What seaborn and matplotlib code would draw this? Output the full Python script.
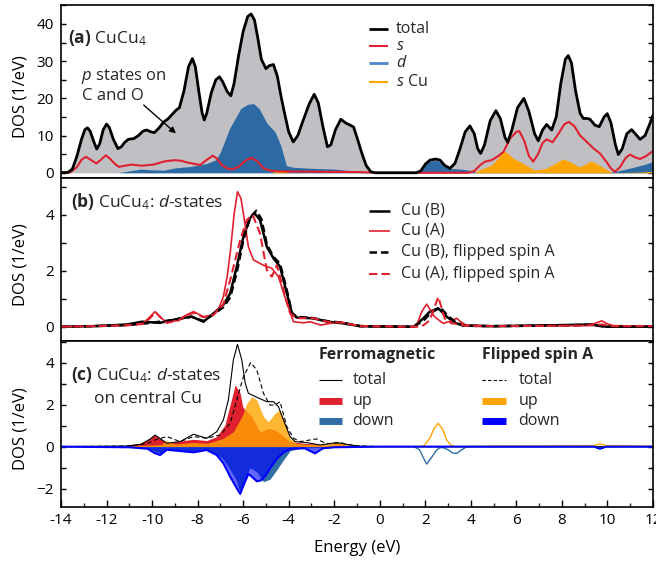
import numpy as np
import matplotlib
matplotlib.use("Agg")
import matplotlib.pyplot as plt
import seaborn as sns
from matplotlib.ticker import MultipleLocator

# ---------------- data: (energy eV, DOS) ----------------
# panel (a)
a_total = [(-14, 0), (-13.7, 0.1), (-13.5, 1.0), (-13.3, 4.5), (-13.1, 9.0), (-12.95, 11.6), (-12.84, 12.1),
           (-12.72, 11.2), (-12.55, 8.2), (-12.43, 6.4), (-12.3, 7.8), (-12.15, 11.5), (-12.0, 13.1), (-11.88, 12.2),
           (-11.7, 9.0), (-11.5, 6.5), (-11.35, 7.0), (-11.2, 8.2), (-11.04, 9.0), (-10.8, 9.2), (-10.6, 10.0),
           (-10.4, 11.2), (-10.23, 11.5), (-10.05, 11.0), (-9.9, 10.8), (-9.7, 12.0), (-9.5, 13.6), (-9.3, 14.5),
           (-9.1, 15.8), (-8.95, 16.8), (-8.8, 17.5), (-8.6, 22), (-8.4, 28.5), (-8.23, 30.7), (-8.1, 28.5),
           (-7.95, 22), (-7.8, 16), (-7.71, 14.2), (-7.6, 16), (-7.4, 21.5), (-7.2, 25), (-7.04, 25.8), (-6.9, 24.5),
           (-6.7, 21.8), (-6.54, 20.7), (-6.4, 24), (-6.2, 31.5), (-6.0, 38), (-5.8, 42), (-5.65, 42.7), (-5.5, 41),
           (-5.35, 36), (-5.2, 30.5), (-5.0, 28.0), (-4.85, 28.8), (-4.67, 29.1), (-4.5, 26), (-4.35, 21), (-4.2, 16.5),
           (-4.0, 11), (-3.8, 8.3), (-3.6, 10.0), (-3.4, 13.5), (-3.1, 18.5), (-2.88, 21.1), (-2.7, 18.8), (-2.5, 12.5),
           (-2.3, 7.0), (-2.15, 7.5), (-1.95, 11.5), (-1.71, 14.4), (-1.5, 13.4), (-1.3, 12.8), (-1.15, 12.3),
           (-1.0, 9.5), (-0.8, 5.5), (-0.6, 2.0), (-0.4, 0.3), (-0.2, 0), (1.6, 0), (1.8, 0.5), (2.0, 2.3), (2.2, 3.4),
           (2.45, 3.7), (2.65, 3.4), (2.85, 2.0), (3.08, 1.2), (3.3, 2.5), (3.5, 6.0), (3.75, 11.0), (3.96, 12.6),
           (4.15, 10.5), (4.3, 6.5), (4.43, 5.2), (4.6, 7.5), (4.85, 14.0), (5.1, 16.7), (5.3, 14.5), (5.5, 9.5),
           (5.62, 8.2), (5.8, 11.5), (6.05, 17.5), (6.33, 20.0), (6.55, 16.5), (6.8, 10.5), (6.96, 8.6), (7.15, 11.5),
           (7.33, 13.0), (7.55, 11.5), (7.75, 15), (7.95, 24), (8.15, 30.5), (8.28, 31.5), (8.42, 29.5), (8.6, 22),
           (8.8, 16), (8.94, 14.6), (9.1, 14.6), (9.23, 14.4), (9.45, 12.8), (9.64, 12.4), (9.85, 15.0), (9.99, 15.9),
           (10.15, 13.5), (10.35, 7.5), (10.48, 4.9), (10.65, 6.5), (10.85, 10.5), (11.06, 11.6), (11.25, 10.3),
           (11.43, 9.0), (11.65, 10.0), (11.85, 13.0), (12.0, 15.5)]
a_s = [(-14, 0), (-13.6, 0.1), (-13.3, 1.5), (-13.1, 3.5), (-12.9, 4.3), (-12.7, 3.5), (-12.45, 2.5), (-12.25, 3.5),
       (-12.03, 4.7), (-11.85, 3.8), (-11.6, 2.2), (-11.45, 1.6), (-11.2, 1.9), (-10.9, 2.2), (-10.45, 1.9),
       (-9.94, 2.2), (-9.43, 3.1), (-8.99, 3.4), (-8.7, 3.2), (-8.48, 2.8), (-8.15, 2.4), (-7.89, 2.1), (-7.6, 3.5),
       (-7.33, 4.6), (-7.15, 3.8), (-6.94, 2.1), (-6.7, 1.2), (-6.5, 0.9), (-6.2, 1.6), (-5.9, 3.3), (-5.65, 4.0),
       (-5.4, 3.2), (-5.1, 1.2), (-4.8, 0.6), (-4.5, 0.4), (-3.0, 0.3), (-1.0, 0.2), (-0.5, 0.1), (-0.2, 0),
       (3.9, 0), (4.15, 0.5), (4.4, 2.0), (4.62, 3.0), (4.91, 3.4), (5.2, 4.5), (5.43, 5.6), (5.72, 9.2),
       (6.0, 11.0), (6.13, 11.2), (6.35, 8.5), (6.55, 4.5), (6.74, 3.0), (6.95, 5.0), (7.15, 8.0), (7.33, 9.0),
       (7.59, 8.2), (7.85, 10.5), (8.1, 13.0), (8.3, 13.7), (8.55, 12.5), (8.8, 10.0), (9.09, 8.3), (9.4, 6.5),
       (9.67, 5.2), (9.95, 3.0), (10.15, 1.2), (10.33, 0.3), (10.55, 1.5), (10.8, 4.0), (10.99, 4.9), (11.2, 4.2),
       (11.43, 3.7), (11.7, 4.5), (11.94, 5.6), (12, 5.8)]
a_d = [(-14, 0), (-11.5, 0), (-11.0, 0.5), (-10.5, 1.0), (-10.0, 0.8), (-9.5, 0.7), (-9.0, 1.3), (-8.3, 1.7),
       (-7.6, 2.5), (-7.2, 3.5), (-7.0, 5.6), (-6.6, 11.9), (-6.1, 17.3), (-5.8, 18.4), (-5.55, 18.6), (-5.3, 17.3),
       (-4.95, 13.3), (-4.6, 11.0), (-4.35, 7.4), (-4.1, 1.9), (-3.8, 1.5), (-3.0, 1.2), (-2.0, 1.0), (-1.2, 0.5),
       (-0.4, 0), (1.7, 0), (1.9, 1.5), (2.13, 3.0), (2.43, 3.4), (2.72, 2.8), (3.08, 1.2), (3.7, 0.9), (4.3, 0.3),
       (9.0, 0.3), (10.3, 0.3), (10.95, 1.2), (11.6, 2.2), (12, 3.0)]
a_scu = [(-14, 0), (-4.8, 0), (-4.5, 0.5), (-4.2, 0.4), (-3.9, 0), (4.1, 0), (4.55, 1.2), (4.91, 2.1), (5.2, 4.0),
         (5.43, 5.9), (5.6, 5.3), (5.87, 3.9), (6.3, 2.5), (6.8, 0.7), (7.3, 1.2), (7.7, 2.5), (8.03, 3.7),
         (8.35, 3.0), (8.75, 1.6), (9.0, 2.2), (9.28, 3.2), (9.6, 2.2), (9.85, 1.2), (10.25, 0), (11.5, 0.2),
         (12, 0.4)]

# panel (b)
b_cuB = [(-14, 0), (-12.6, 0.02), (-11.1, 0.08), (-10.45, 0.18), (-9.65, 0.14), (-8.77, 0.3), (-8.26, 0.36),
         (-7.74, 0.18), (-7.3, 0.48), (-6.87, 0.78), (-6.57, 1.19), (-6.28, 2.15), (-5.99, 3.22), (-5.7, 3.88),
         (-5.5, 4.06), (-5.26, 3.82), (-4.96, 2.86), (-4.67, 2.45), (-4.38, 2.15), (-4.08, 1.19), (-3.86, 0.48),
         (-3.65, 0.33), (-2.9, 0.3), (-2.3, 0.18), (-1.6, 0.12), (-0.86, 0.02), (0.5, 0), (1.5, 0), (1.91, 0.3),
         (2.2, 0.54), (2.57, 0.66), (2.94, 0.36), (3.3, 0.14), (3.67, 0.04), (5.0, 0.02), (8.06, 0.06),
         (9.23, 0.08), (9.96, 0), (12, 0)]
b_cuA = [(-14, 0), (-12.5, 0.02), (-11.1, 0.05), (-10.4, 0.12), (-10.1, 0.35), (-9.87, 0.54), (-9.65, 0.35),
         (-9.35, 0.14), (-8.85, 0.24), (-8.5, 0.42), (-8.18, 0.54), (-7.74, 0.36), (-7.3, 0.42), (-7.05, 0.7),
         (-6.87, 1.07), (-6.7, 1.8), (-6.57, 2.63), (-6.4, 4.0), (-6.25, 4.83), (-6.1, 4.6), (-5.99, 4.06),
         (-5.77, 2.86), (-5.55, 2.39), (-5.11, 2.2), (-4.74, 2.09), (-4.45, 1.79), (-4.08, 0.84), (-3.79, 0.18),
         (-3.35, 0.14), (-3.06, 0.18), (-2.6, 0.06), (-1.74, 0.18), (-1.15, 0.06), (-0.5, 0.02), (1.5, 0),
         (1.65, 0.12), (1.85, 0.55), (2.06, 0.81), (2.4, 0.36), (2.79, 0.12), (3.1, 0.2), (3.38, 0.3), (3.6, 0.15),
         (3.8, 0.06), (5.0, 0.02), (9.0, 0.04), (9.45, 0.12), (9.75, 0.21), (10.0, 0.1), (10.25, 0.04), (12, 0.02)]
b_cuB_flip = [(-14, 0), (-12.6, 0.02), (-11.1, 0.06), (-10.3, 0.12), (-9.65, 0.18), (-8.77, 0.28), (-8.26, 0.36),
              (-7.74, 0.2), (-7.3, 0.45), (-6.87, 0.7), (-6.57, 1.05), (-6.28, 1.95), (-5.99, 3.1), (-5.7, 3.9),
              (-5.42, 4.15), (-5.2, 3.85), (-4.96, 2.95), (-4.67, 2.5), (-4.38, 2.25), (-4.08, 1.3), (-3.86, 0.5),
              (-3.65, 0.35), (-3.0, 0.32), (-2.3, 0.2), (-1.6, 0.14), (-0.86, 0.02), (1.5, 0), (1.95, 0.25),
              (2.25, 0.5), (2.65, 0.69), (3.0, 0.38), (3.35, 0.15), (3.7, 0.04), (5.0, 0.02), (8.06, 0.05),
              (9.23, 0.07), (9.96, 0), (12, 0)]
b_cuA_flip = [(-14, 0), (-12.5, 0.02), (-11.1, 0.05), (-10.4, 0.1), (-10.1, 0.3), (-9.85, 0.52), (-9.6, 0.32),
              (-9.35, 0.14), (-8.85, 0.22), (-8.5, 0.4), (-8.18, 0.5), (-7.74, 0.34), (-7.3, 0.42), (-6.87, 0.8),
              (-6.57, 1.67), (-6.13, 3.1), (-5.84, 3.82), (-5.58, 4.0), (-5.26, 3.34), (-4.96, 2.03), (-4.74, 1.79),
              (-4.52, 2.2), (-4.23, 1.31), (-3.94, 0.48), (-3.65, 0.3), (-3.0, 0.32), (-2.3, 0.18), (-1.6, 0.14),
              (-0.86, 0.02), (1.8, 0), (2.0, 0.1), (2.2, 0.24), (2.57, 1.07), (2.85, 0.3), (3.15, 0.12), (3.5, 0.1),
              (3.75, 0.03), (5.0, 0.02), (9.0, 0.04), (9.75, 0.08), (10.3, 0.02), (12, 0.02)]

# panel (c)
c_fm_total = [(-14, 0), (-12, 0.02), (-11.1, 0.03), (-10.5, 0.11), (-10.1, 0.35), (-9.87, 0.55), (-9.6, 0.35),
              (-9.35, 0.16), (-8.77, 0.24), (-8.18, 0.59), (-7.6, 0.4), (-7.16, 0.71), (-6.87, 1.27), (-6.65, 2.22),
              (-6.43, 4.13), (-6.25, 4.87), (-6.06, 4.13), (-5.91, 3.02), (-5.77, 2.54), (-5.4, 2.35), (-4.96, 2.14),
              (-4.67, 2.14), (-4.45, 1.9), (-4.23, 1.27), (-3.94, 0.48), (-3.72, 0.24), (-3.21, 0.19), (-2.62, 0.08),
              (-1.89, 0.19), (-1.3, 0.08), (-0.86, 0.02), (0, 0), (12, 0)]
c_fl_total = [(-14, 0), (-11, 0.03), (-10.2, 0.15), (-9.87, 0.32), (-9.35, 0.48), (-8.77, 0.24), (-8.18, 0.48),
              (-7.6, 0.4), (-7.0, 0.56), (-6.57, 1.11), (-6.28, 2.22), (-5.99, 3.33), (-5.67, 4.0), (-5.4, 3.65),
              (-5.11, 2.54), (-4.82, 1.98), (-4.6, 1.98), (-4.38, 2.14), (-4.08, 0.95), (-3.79, 0.4), (-3.5, 0.24),
              (-2.77, 0.37), (-2.33, 0.13), (-1.74, 0.19), (-1.15, 0.05), (0, 0), (12, 0)]
c_fm_up = [(-14, 0), (-13.3, 0.03), (-11, 0.05), (-10.5, 0.13), (-10.1, 0.4), (-9.87, 0.56), (-9.6, 0.35),
           (-9.35, 0.16), (-8.77, 0.27), (-8.18, 0.35), (-7.6, 0.29), (-7.16, 0.48), (-6.8, 1.03), (-6.5, 2.3),
           (-6.35, 2.94), (-6.13, 2.54), (-6.02, 1.9), (-5.9, 1.72), (-5.62, 1.43), (-5.26, 0.71), (-4.89, 0.87),
           (-4.6, 0.79), (-4.3, 0.56), (-3.94, 0.24), (-3.35, 0.16), (-2.9, 0.13), (-2.3, 0.05), (-1.89, 0.16),
           (-1.3, 0.03), (0, 0), (12, 0)]
c_fl_up = [(-14, 0), (-11, 0.03), (-9.6, 0.1), (-9.35, 0.3), (-9.0, 0.12), (-8.18, 0.2), (-7.6, 0.16),
           (-7.3, 0.24), (-6.87, 0.4), (-6.43, 0.71), (-6.06, 1.43), (-5.84, 2.06), (-5.62, 2.38), (-5.4, 2.22),
           (-5.11, 1.43), (-4.89, 1.19), (-4.6, 1.59), (-4.38, 1.75), (-4.16, 1.11), (-3.94, 0.4), (-3.65, 0.16),
           (-3.3, 0.11), (-2.3, 0.11), (-1.89, 0.24), (-1.5, 0.1), (-1.0, 0.02), (-0.5, 0), (1.7, 0), (1.95, 0.05),
           (2.2, 0.4), (2.4, 0.9), (2.57, 1.11), (2.75, 0.85), (2.95, 0.3), (3.15, 0.05), (3.4, 0), (5.0, 0.03),
           (7.0, 0.03), (9.4, 0.05), (9.67, 0.13), (9.95, 0.05), (12, 0.02)]
c_fm_down = [(-14, 0), (-11, -0.02), (-10.2, -0.08), (-9.9, -0.2), (-9.65, -0.3), (-9.35, -0.12), (-8.77, -0.18),
             (-8.18, -0.22), (-7.6, -0.15), (-7.16, -0.35), (-6.87, -0.6), (-6.57, -1.1), (-6.3, -1.6),
             (-6.13, -2.2), (-5.95, -1.6), (-5.7, -1.0), (-5.4, -1.2), (-5.11, -1.67), (-4.82, -1.55),
             (-4.52, -1.1), (-4.23, -0.63), (-3.94, -0.2), (-3.5, -0.08), (-2.9, -0.05), (-2.0, -0.03), (0, 0),
             (1.5, 0), (1.75, -0.15), (1.9, -0.5), (2.06, -0.83), (2.25, -0.55), (2.5, -0.16), (2.65, -0.05),
             (2.8, -0.05), (3.0, -0.15), (3.2, -0.3), (3.38, -0.32), (3.6, -0.15), (3.82, 0), (9.4, 0),
             (9.67, -0.05), (9.95, 0), (12, 0)]
c_fl_down = [(-14, 0), (-11, -0.03), (-10.2, -0.1), (-9.9, -0.3), (-9.65, -0.4), (-9.35, -0.15), (-8.77, -0.21),
             (-8.18, -0.27), (-7.6, -0.16), (-7.16, -0.4), (-6.87, -0.79), (-6.57, -1.43), (-6.28, -1.98),
             (-6.13, -2.25), (-5.95, -1.75), (-5.77, -1.3), (-5.62, -1.43), (-5.4, -1.65), (-5.2, -1.6),
             (-5.0, -1.35), (-4.8, -1.0), (-4.5, -0.55), (-4.2, -0.25), (-3.9, -0.1), (-3.3, -0.08), (-2.84, -0.32),
             (-2.5, -0.08), (-2.0, -0.03), (0, 0), (9.4, 0), (9.67, -0.1), (9.95, 0), (12, 0)]

legend_a = ["total", r"$\mathit{s}$", r"$\mathit{d}$", r"$\mathit{s}$ Cu"]
legend_b = ["Cu (B)", "Cu (A)", "Cu (B), flipped spin A", "Cu (A), flipped spin A"]
legend_c_titles = ["Ferromagnetic", "Flipped spin A"]
legend_c = ["total", "up", "down"]
x_ticks = list(range(-14, 13, 2))

# ---------------- style ----------------
sns.set_theme(style="ticks")
plt.rcParams["font.family"] = ["Open Sans", "DejaVu Sans"]
plt.rcParams["mathtext.fontset"] = "custom"
plt.rcParams["mathtext.rm"] = "Open Sans"
plt.rcParams["mathtext.it"] = "Open Sans:italic"
plt.rcParams["mathtext.bf"] = "Open Sans:bold"

RED = "#e0202f"
BLUE_D = "#2d6aa3"
BLUE_D_LEG = "#4f88c6"
STEEL = "#2f6fa6"
ORANGE = "#ffa500"
GRAY = "#bfbfc4"
BLUE = "#0000ff"


def arr(data):
    a = np.array(data, dtype=float)
    return a[:, 0], a[:, 1]


def line(ax, data, **kw):
    x, y = arr(data)
    sns.lineplot(x=x, y=y, ax=ax, estimator=None, sort=False, legend=False, **kw)


fig = plt.figure(figsize=(6.56, 5.64), dpi=100)
L, W = 61 / 656, 592 / 656
axa = fig.add_axes([L, 1 - 178 / 564, W, 173 / 564])
axb = fig.add_axes([L, 1 - 341 / 564, W, 163 / 564])
axc = fig.add_axes([L, 1 - 506.5 / 564, W, 165.5 / 564])


def style(ax, ylim, major, minor):
    ax.set_xlim(-14, 12)
    ax.set_ylim(*ylim)
    ax.yaxis.set_major_locator(MultipleLocator(major))
    ax.yaxis.set_minor_locator(MultipleLocator(minor))
    ax.tick_params(axis="y", which="both", direction="in", left=True, right=True,
                   length=3.6, width=1, labelsize=11, pad=5, colors="black")
    for s in ax.spines.values():
        s.set_visible(True)
        s.set_linewidth(1.2)
        s.set_color("black")
    ax.set_ylabel("DOS (1/eV)", fontsize=12, color="black")
    ax.yaxis.set_label_coords(-0.055, 0.47)


# ---- panel (a)
x, y = arr(a_total)
axa.fill_between(x, 0, y, color=GRAY, lw=0)
x, y = arr(a_d)
axa.fill_between(x, 0, y, color=BLUE_D, lw=0)
x, y = arr(a_scu)
axa.fill_between(x, 0, y, color=ORANGE, lw=0)
line(axa, a_s, color=RED, linewidth=1.5)
line(axa, a_total, color="black", linewidth=2)
style(axa, (-1.4, 45.1), 10, 5)
axa.tick_params(axis="x", which="both", bottom=False, top=False, labelbottom=False)
axa.set_xlabel("")
axa.text(0.012, 0.779, r"$\mathbf{(a)}$ CuCu$_4$", transform=axa.transAxes, fontsize=12.5, va="baseline")
axa.text(0.033, 0.566, r"$\mathit{p}$ states on", transform=axa.transAxes, fontsize=12, va="baseline")
axa.text(0.0355, 0.451, "C and O", transform=axa.transAxes, fontsize=12, va="baseline")
axa.annotate("", xy=(-8.86, 10.1), xytext=(-10.46, 18.7),
             arrowprops=dict(arrowstyle="-|>", lw=1, color="black", mutation_scale=9))

# ---- panel (b)
line(axb, b_cuB, color="black", linewidth=1.8)
line(axb, b_cuA, color=RED, linewidth=1.2)
line(axb, b_cuB_flip, color="black", linewidth=1.8, dashes=(3, 1.6))
line(axb, b_cuA_flip, color=RED, linewidth=1.5, dashes=(4, 2))
style(axb, (-0.51, 5.32), 2, 1)
axb.tick_params(axis="x", which="both", bottom=False, top=False, labelbottom=False)
axb.set_xlabel("")
axb.text(0.0164, 0.824, r"$\mathbf{(b)}$ CuCu$_4$: $\mathit{d}$-states", transform=axb.transAxes,
         fontsize=12.5, va="baseline")

# ---- panel (c)
x, y = arr(c_fm_up)
axc.fill_between(x, 0, y, color=RED, lw=0)
x, y = arr(c_fl_up)
m = x <= 1
axc.fill_between(x[m], 0, y[m], color=ORANGE, lw=0, alpha=0.8)
x, y = arr(c_fm_down)
m = x <= 1
axc.fill_between(x[m], 0, y[m], color=STEEL, lw=0)
x, y = arr(c_fl_down)
axc.fill_between(x, 0, y, color=BLUE, lw=0, alpha=0.6)
line(axc, c_fm_total, color="black", linewidth=0.8)
line(axc, c_fl_total, color="black", linewidth=0.8, dashes=(4, 2.5))
x, y = arr(c_fl_up)
m = x >= 1
sns.lineplot(x=x[m], y=y[m], ax=axc, color=ORANGE, linewidth=1.0, estimator=None, sort=False, legend=False)
x, y = arr(c_fm_down)
m = x >= 1
sns.lineplot(x=x[m], y=y[m], ax=axc, color=STEEL, linewidth=1.0, estimator=None, sort=False, legend=False)
line(axc, c_fl_down, color=BLUE, linewidth=1.5)
style(axc, (-2.85, 5.03), 2, 1)
axc.set_xticks(x_ticks)
axc.xaxis.set_minor_locator(MultipleLocator(1))
axc.set_xticklabels([str(t) for t in x_ticks])
axc.tick_params(axis="x", which="major", direction="in", bottom=True, top=False, length=5, width=1,
                labelsize=11, pad=5, colors="black")
axc.tick_params(axis="x", which="minor", direction="in", bottom=True, top=False, length=3, width=1)
axc.set_xlabel("Energy (eV)", fontsize=12, labelpad=8, color="black")
axc.text(0.0164, 0.764, r"$\mathbf{(c)}$ CuCu$_4$: $\mathit{d}$-states", transform=axc.transAxes,
         fontsize=12.5, va="baseline")
axc.text(0.056, 0.624, "on central Cu", transform=axc.transAxes, fontsize=12.5, va="baseline")


# ---- legends (handles drawn in axes coordinates)
def entry(ax, x0, x1, xt, yc, label, **kw):
    ax.plot([x0, x1], [yc, yc], transform=ax.transAxes, solid_capstyle="butt", **kw)
    ax.text(xt, yc, label, transform=ax.transAxes, fontsize=11.5, va="center")


rows_a = [0.861, 0.765, 0.663, 0.557]
styles_a = [dict(color="black", lw=2), dict(color=RED, lw=1.5), dict(color=BLUE_D_LEG, lw=2),
            dict(color=ORANGE, lw=1.5)]
for yc, lab, st in zip(rows_a, legend_a, styles_a):
    entry(axa, 0.520, 0.552, 0.566, yc, lab, **st)

rows_b = [0.799, 0.677, 0.548, 0.411]
styles_b = [dict(color="black", lw=1.8), dict(color=RED, lw=1.2),
            dict(color="black", lw=1.8, dashes=(3, 1.6)), dict(color=RED, lw=1.5, dashes=(4, 2))]
for yc, lab, st in zip(rows_b, legend_b, styles_b):
    entry(axb, 0.520, 0.556, 0.574, yc, lab, **st)

rows_c = [0.762, 0.640, 0.517]
axc.text(0.436, 0.915, legend_c_titles[0], transform=axc.transAxes, fontsize=11.5, fontweight="bold", va="center")
axc.text(0.711, 0.915, legend_c_titles[1], transform=axc.transAxes, fontsize=11.5, fontweight="bold", va="center")
styles_fm = [dict(color="black", lw=0.8), dict(color=RED, lw=5), dict(color=STEEL, lw=5)]
styles_fl = [dict(color="black", lw=0.8, dashes=(3, 2)), dict(color=ORANGE, lw=5), dict(color=BLUE, lw=5)]
for yc, lab, st in zip(rows_c, legend_c, styles_fm):
    entry(axc, 0.436, 0.474, 0.492, yc, lab, **st)
for yc, lab, st in zip(rows_c, legend_c, styles_fl):
    entry(axc, 0.711, 0.752, 0.773, yc, lab, **st)

fig.savefig("out.png", dpi=100)
